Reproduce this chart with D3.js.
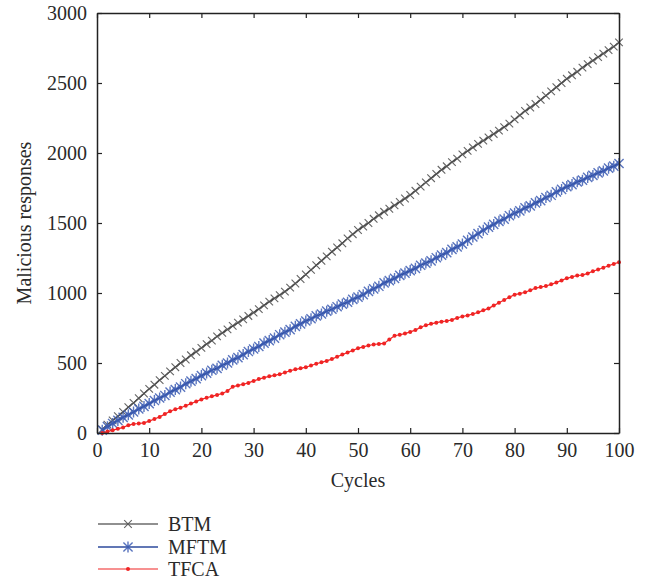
<!DOCTYPE html>
<html>
<head>
<meta charset="utf-8">
<script src="https://cdn.jsdelivr.net/npm/d3@7"></script>
<style>
  body { margin: 0; background: #fff; }
  text { font-family: "Liberation Serif", "DejaVu Serif", serif; fill: #2a2a2a; }
</style>
</head>
<body>
<div id="chart"></div>
<script>
// cumulative malicious responses per cycle
var cycles = d3.range(1, 101);

var btm = [
  25, 60, 90, 120, 150, 185, 215, 248, 282, 315,
  345, 378, 408, 440, 470, 500, 525, 555, 580, 608,
  635, 660, 690, 715, 740, 765, 788, 812, 836, 860,
  885, 912, 938, 962, 985, 1010, 1038, 1068, 1100, 1132,
  1165, 1198, 1230, 1262, 1295, 1325, 1355, 1390, 1420, 1450,
  1475, 1500, 1530, 1555, 1580, 1602, 1626, 1650, 1675, 1700,
  1730, 1760, 1790, 1820, 1850, 1880, 1905, 1935, 1960, 1990,
  2015, 2040, 2065, 2088, 2112, 2136, 2160, 2185, 2210, 2240,
  2270, 2300, 2325, 2350, 2380, 2410, 2440, 2470, 2500, 2530,
  2555, 2580, 2610, 2635, 2660, 2685, 2710, 2735, 2760, 2790
];

var mftm = [
  20, 45, 68, 90, 112, 130, 150, 172, 190, 210,
  232, 250, 268, 292, 310, 328, 352, 370, 388, 410,
  428, 448, 462, 484, 500, 522, 538, 560, 582, 600,
  618, 642, 660, 678, 702, 720, 738, 762, 780, 800,
  816, 836, 850, 870, 884, 902, 920, 934, 955, 970,
  988, 1012, 1030, 1048, 1072, 1088, 1104, 1126, 1142, 1160,
  1176, 1198, 1214, 1230, 1252, 1270, 1288, 1312, 1330, 1350,
  1376, 1400, 1424, 1448, 1470, 1490, 1512, 1528, 1552, 1570,
  1586, 1608, 1622, 1644, 1660, 1682, 1698, 1722, 1740, 1760,
  1774, 1794, 1806, 1826, 1840, 1858, 1872, 1892, 1906, 1925
];

var tfca = [
  0, 10, 20, 30, 40, 55, 65, 68, 72, 85,
  100, 115, 135, 155, 170, 180, 195, 210, 225, 240,
  252, 262, 272, 282, 300, 330, 340, 348, 358, 372,
  385, 395, 405, 412, 420, 432, 445, 455, 462, 470,
  482, 495, 505, 515, 528, 545, 560, 575, 590, 605,
  615, 625, 632, 636, 640, 668, 695, 702, 710, 722,
  735, 755, 770, 780, 788, 795, 800, 808, 822, 832,
  840, 850, 862, 876, 890, 910, 930, 950, 970, 988,
  995, 1005, 1020, 1035, 1042, 1050, 1062, 1075, 1090, 1105,
  1115, 1125, 1128, 1140, 1155, 1168, 1180, 1195, 1208, 1220
];

var seriesNames = ["BTM", "MFTM", "TFCA"];
var seriesColors = ["#222222", "#2c4a9c", "#f02424"];
var markerColors = ["#555555", "#3d5db4", "#f02424"];
var xTicks = d3.range(0, 101, 10);
var yTicks = [0, 500, 1000, 1500, 2000, 2500, 3000];

var width = 654, height = 582,
    margin = {top: 13, right: 35, bottom: 149, left: 97};
var pw = width - margin.left - margin.right,
    ph = height - margin.top - margin.bottom;

var svg = d3.select("#chart").append("svg")
    .attr("width", width).attr("height", height);

var g = svg.append("g")
    .attr("transform", "translate(" + margin.left + "," + margin.top + ")");

var x = d3.scaleLinear().domain([0, 100]).range([0, pw]);
var y = d3.scaleLinear().domain([0, 3000]).range([ph, 0]);

var data = [btm, mftm, tfca].map(function(vals, k){
  return {name: seriesNames[k], k: k,
          pts: vals.map(function(v, i){ return {c: cycles[i], v: v}; })};
});

var line = d3.line().x(d => x(d.c)).y(d => y(d.v));

// draws one marker of kind k at (cx, cy) into sel
function marker(sel, k, cx, cy){
  var col = markerColors[k];
  if (k === 0) {
    var s = 3.8;
    sel.append("path")
      .attr("d", "M" + (cx - s) + "," + (cy - s) + "L" + (cx + s) + "," + (cy + s) +
                 "M" + (cx - s) + "," + (cy + s) + "L" + (cx + s) + "," + (cy - s))
      .attr("stroke", col).attr("stroke-width", 1.1).attr("opacity", 0.9);
  } else if (k === 1) {
    var a = 4.6;
    sel.append("path")
      .attr("d", "M" + (cx - a) + "," + (cy - a) + "L" + (cx + a) + "," + (cy + a) +
                 "M" + (cx - a) + "," + (cy + a) + "L" + (cx + a) + "," + (cy - a) +
                 "M" + cx + "," + (cy - a * 1.2) + "L" + cx + "," + (cy + a * 1.2))
      .attr("stroke", col).attr("stroke-width", 1.4).attr("opacity", 0.85);
  } else {
    sel.append("circle").attr("cx", cx).attr("cy", cy).attr("r", 2)
      .attr("fill", col);
  }
}

// series: line then markers
data.forEach(function(s){
  g.append("path").datum(s.pts)
    .attr("fill", "none")
    .attr("stroke", seriesColors[s.k])
    .attr("stroke-width", s.k === 1 ? 1.8 : 1.2)
    .attr("d", line);
  var mg = g.append("g");
  s.pts.forEach(function(p){ marker(mg, s.k, x(p.c), y(p.v)); });
});

// axes with inward ticks, mirrored on top/right
var tickLen = 5, fmt = d3.format("d");
g.append("g").attr("transform", "translate(0," + ph + ")")
  .call(d3.axisBottom(x).tickValues(xTicks).tickFormat(fmt).tickSizeInner(-tickLen).tickSizeOuter(0).tickPadding(10));
g.append("g")
  .call(d3.axisTop(x).tickValues(xTicks).tickSizeInner(-tickLen).tickSizeOuter(0).tickFormat(""));
g.append("g")
  .call(d3.axisLeft(y).tickValues(yTicks).tickFormat(fmt).tickSizeInner(-tickLen).tickSizeOuter(0).tickPadding(10));
g.append("g").attr("transform", "translate(" + pw + ",0)")
  .call(d3.axisRight(y).tickValues(yTicks).tickSizeInner(-tickLen).tickSizeOuter(0).tickFormat(""));

g.selectAll(".domain").attr("stroke", "#222").attr("stroke-width", 1.5);
g.selectAll(".tick line").attr("stroke", "#222").attr("stroke-width", 1.2);
g.selectAll(".tick text")
  .style("font-family", "'Liberation Serif', 'DejaVu Serif', serif")
  .style("font-size", "20px").attr("fill", "#2a2a2a");

// axis titles
svg.append("text")
  .attr("x", margin.left + pw / 2).attr("y", 487)
  .attr("text-anchor", "middle").style("font-size", "20px")
  .text("Cycles");
svg.append("text")
  .attr("transform", "translate(31," + (margin.top + ph / 2) + ") rotate(-90)")
  .attr("text-anchor", "middle").style("font-size", "20px")
  .text("Malicious responses");

// legend
var legY = [524, 547, 569];
data.forEach(function(s){
  var ly = legY[s.k];
  svg.append("line")
    .attr("x1", 98).attr("x2", 158).attr("y1", ly).attr("y2", ly)
    .attr("stroke", seriesColors[s.k]).attr("stroke-width", s.k === 1 ? 1.6 : 1.2);
  marker(svg, s.k, 128, ly);
  svg.append("text")
    .attr("x", 168).attr("y", ly + 7)
    .style("font-size", "20px")
    .text(s.name);
});
</script>
</body>
</html>
